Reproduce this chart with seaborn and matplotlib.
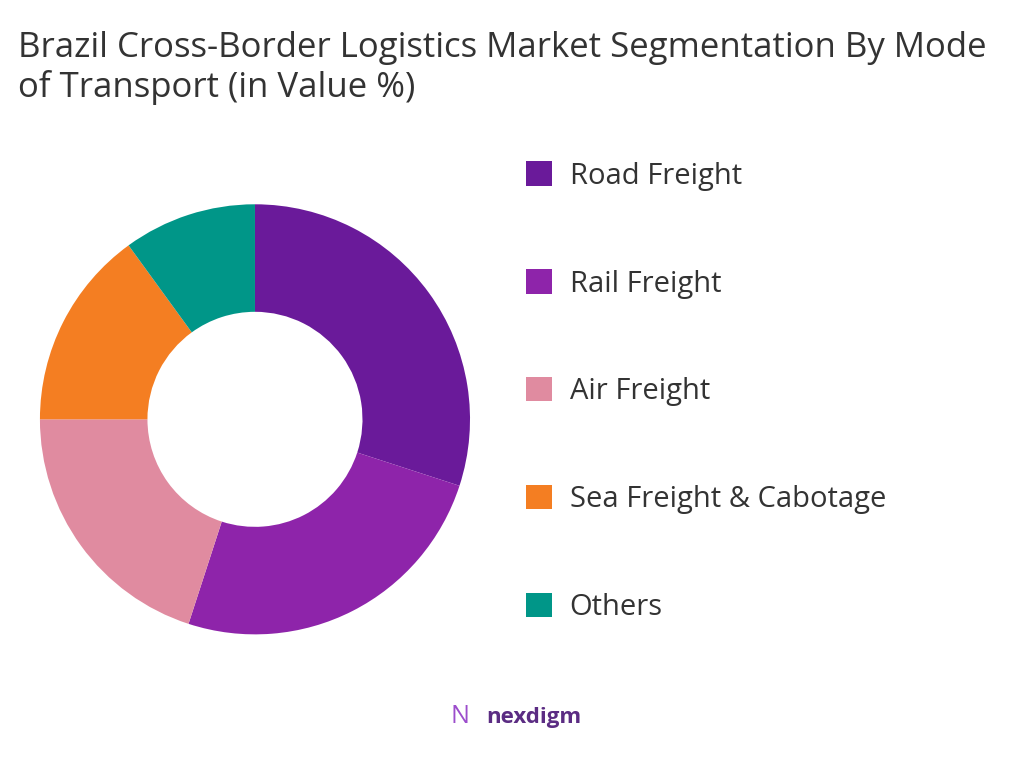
import matplotlib
matplotlib.use("Agg")
import matplotlib.pyplot as plt
import seaborn as sns
from matplotlib.patches import Patch

sns.set_theme(style="white")
plt.rcParams['font.family'] = ['Open Sans', 'DejaVu Sans']

categories = ["Road Freight", "Rail Freight", "Air Freight", "Sea Freight & Cabotage", "Others"]
values = [30, 25, 20, 15, 10]
colors = ["#6A1A9A", "#8E24AA", "#E08BA0", "#F47E22", "#009688"]

fig = plt.figure(figsize=(10.24, 7.68), dpi=100)
ax = fig.add_axes([0.039, 0.174, 0.42, 0.56])
ax.pie(values, colors=colors, startangle=90, counterclock=False,
       wedgeprops=dict(width=0.5, edgecolor="none"))
ax.set_xlim(-1, 1)
ax.set_ylim(-1, 1)
ax.set_aspect("equal")

fig.text(0.018, 0.96, "Brazil Cross-Border Logistics Market Segmentation By Mode\nof Transport (in Value %)",
         fontsize=25, color="#333333", va="top", ha="left", linespacing=1.2)

handles = [Patch(facecolor=c, edgecolor="none") for c in colors]
fig.legend(handles, categories, loc="upper left", bbox_to_anchor=(0.488, 0.824),
           frameon=False, fontsize=21, labelcolor="#333333", handlelength=0.9,
           handleheight=0.9, labelspacing=2.7, handletextpad=0.6)

fig.text(0.475, 0.058, "nexdigm", fontsize=16, color="#5B2C83", fontweight="bold", ha="left")
fig.text(0.44, 0.058, "N", fontsize=18, color="#9C4DCC", ha="left")

fig.savefig("out.png", dpi=100)
